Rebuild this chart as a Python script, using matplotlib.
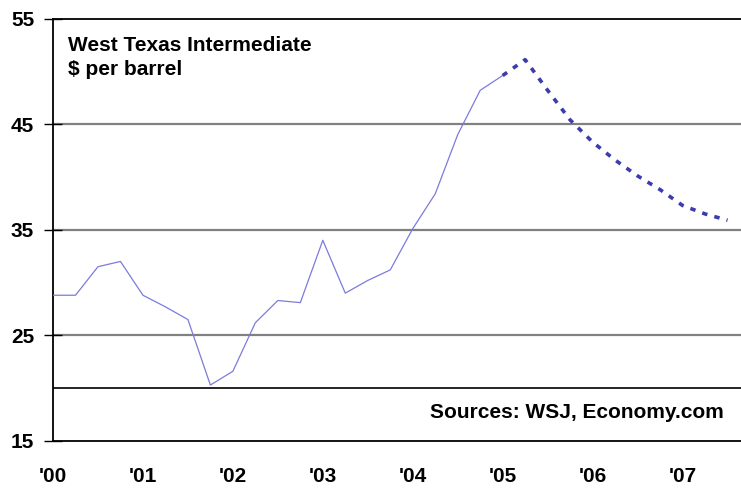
import numpy as np
import matplotlib.pyplot as plt
import matplotlib as mp
mp.rc('font', family=['Liberation Sans', 'DejaVu Sans'], weight='bold')

# quarterly prices, 2000Q1 .. 2005Q1 actual, 2005Q1 .. 2007Q3 forecast
actual = [28.8, 28.8, 31.5, 32.0, 28.8, 27.7, 26.5, 20.3, 21.6, 26.2, 28.3, 28.1,
          34.0, 29.0, 30.2, 31.2, 35.1, 38.4, 44.0, 48.2, 49.6]
forecast = [49.6, 51.1, 48.2, 45.4, 43.3, 41.6, 40.1, 38.8, 37.3, 36.5, 35.9]
year_labels = ["'00", "'01", "'02", "'03", "'04", "'05", "'06", "'07"]
y_ticks = [15, 25, 35, 45, 55]

x_act = np.arange(len(actual))
x_fc = np.arange(len(actual) - 1, len(actual) - 1 + len(forecast))

fig = plt.figure(figsize=[7.41, 4.88], dpi=100)
ax = fig.add_axes([53/741, 1-441/488, 1-53/741, (441-18.5)/488])

for g in [25, 35, 45]:
    ax.axhline(g, color='#808080', linewidth=1.6, zorder=1)
ax.axhline(20, color='black', linewidth=1.2, zorder=1)

ax.plot(x_act, actual, color='#7b7bdc', linewidth=0.9, zorder=3)
ax.plot(x_fc, forecast, color='#3c3cae', linewidth=2.6, linestyle=(0, (1.5, 2.0)), zorder=3)

ax.set_xlim(0, 30.6)
ax.set_ylim(15, 55)
ax.set_yticks(y_ticks)
ax.set_xticks(np.arange(0, 32, 4))
ax.set_xticklabels(year_labels)
ax.tick_params(axis='y', direction='inout', length=13, width=1, pad=7, labelsize=15)
ax.tick_params(axis='x', length=0, pad=19, labelsize=15)
ax.spines['right'].set_visible(False)
for s in ['left', 'top', 'bottom']:
    ax.spines[s].set_linewidth(1.3)

fig.text(68/741, 1-50.7/488, 'West Texas Intermediate', fontsize=15, fontweight='bold',
         va='baseline', ha='left')
fig.text(68/741, 1-75/488, '$ per barrel', fontsize=15, fontweight='bold',
         va='baseline', ha='left')
fig.text(724/741, 1-418/488, 'Sources: WSJ, Economy.com', fontsize=15, fontweight='bold',
         va='baseline', ha='right')

fig.savefig('out.png', dpi=100)
